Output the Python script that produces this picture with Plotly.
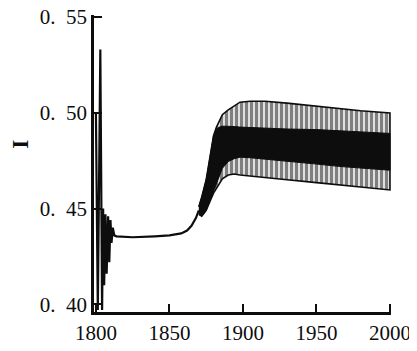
import plotly.graph_objects as go

# ---- data ----
early_years = [1800, 1801.3, 1803.0, 1804.2, 1804.9, 1805.6, 1806.5, 1807.3, 1808.3,
               1809.1, 1809.9, 1810.6, 1811.5, 1812.5, 1814, 1825, 1840, 1850, 1858,
               1862, 1865, 1868, 1870]
early_I = [0.500, 0.397, 0.533, 0.397, 0.450, 0.410, 0.447, 0.416, 0.446,
           0.422, 0.444, 0.432, 0.440, 0.436, 0.4355, 0.435, 0.4355, 0.436, 0.437,
           0.4385, 0.441, 0.445, 0.449]

band_years = [1870, 1872, 1875, 1878, 1880, 1882, 1884, 1886, 1890, 1894, 1898, 1905,
              1915, 1930, 1950, 1965, 1980, 2000]
upper_outer = [0.451, 0.456, 0.465, 0.479, 0.488, 0.4925, 0.496, 0.499, 0.5015, 0.5035,
               0.5055, 0.506, 0.506, 0.505, 0.5035, 0.5025, 0.501, 0.4999]
lower_outer = [0.447, 0.446, 0.449, 0.4545, 0.458, 0.461, 0.463, 0.4655, 0.4675, 0.468,
               0.4675, 0.467, 0.466, 0.465, 0.4635, 0.4625, 0.4612, 0.4597]
upper_inner = [0.451, 0.456, 0.465, 0.479, 0.488, 0.4915, 0.4925, 0.493, 0.493, 0.4928,
               0.4925, 0.4922, 0.492, 0.4915, 0.4912, 0.4905, 0.4898, 0.4892]
lower_inner = [0.447, 0.446, 0.449, 0.4545, 0.458, 0.463, 0.467, 0.471, 0.4745, 0.476,
               0.4768, 0.4765, 0.476, 0.4748, 0.4732, 0.472, 0.471, 0.470]

x_ticks = [1800, 1850, 1900, 1950, 2000]
x_ticklabels = ["1800", "1850", "1900", "1950", "2000"]
y_ticks = [0.40, 0.45, 0.50, 0.55]
y_ticklabels = ["0.\u00a0\u00a040", "0.\u00a0\u00a045", "0.\u00a0\u00a050", "0.\u00a0\u00a055"]

INK = "#0d0d0d"
FONT = "Liberation Serif"

fig = go.Figure()

# oscillation band (outer envelope, striped)
fig.add_trace(go.Scatter(
    x=band_years + band_years[::-1],
    y=upper_outer + lower_outer[::-1],
    mode="lines", fill="toself",
    fillcolor="white",
    fillpattern=dict(shape="|", fgcolor="#000000", bgcolor="white", size=5, solidity=0.7),
    line=dict(color=INK, width=1.6),
    hoverinfo="skip", showlegend=False))

# dense core of the band
fig.add_trace(go.Scatter(
    x=band_years + band_years[::-1],
    y=upper_inner + lower_inner[::-1],
    mode="lines", fill="toself", fillcolor=INK,
    line=dict(color=INK, width=1),
    hoverinfo="skip", showlegend=False))

# early transient and flat stretch
fig.add_trace(go.Scatter(
    x=early_years, y=early_I, mode="lines",
    line=dict(color=INK, width=2.2),
    hoverinfo="skip", showlegend=False))

fig.update_layout(
    width=417, height=351,
    margin=dict(l=86, r=34, t=7, b=47, autoexpand=False),
    paper_bgcolor="white", plot_bgcolor="white",
    font=dict(family=FONT, size=21, color=INK),
    xaxis=dict(range=[1798.7, 2000.7], tickvals=x_ticks, ticktext=x_ticklabels,
               ticks="inside", ticklen=8, tickwidth=2, tickcolor=INK,
               showline=True, linecolor=INK, linewidth=2.5, automargin=False,
               ticklabeloverflow="allow",
               showgrid=False, zeroline=False, mirror=False),
    yaxis=dict(range=[0.396, 0.551], tickvals=y_ticks, ticktext=y_ticklabels,
               ticks="inside", ticklen=8, tickwidth=2, tickcolor=INK,
               showline=True, linecolor=INK, linewidth=2.5, automargin=False,
               ticklabeloverflow="allow",
               showgrid=False, zeroline=False, mirror=False),
    annotations=[
        dict(text="<b>I</b>", xref="paper", yref="paper", x=-0.246, y=0.566,
             xanchor="center", yanchor="middle",
             showarrow=False, textangle=-90, font=dict(family=FONT, size=23, color=INK)),
        dict(text="t", xref="paper", yref="paper", x=0.508, y=-0.10,
             xanchor="center", yanchor="top", showarrow=False,
             font=dict(family=FONT, size=21, color=INK)),
    ],
)

fig.write_html("out.html")
